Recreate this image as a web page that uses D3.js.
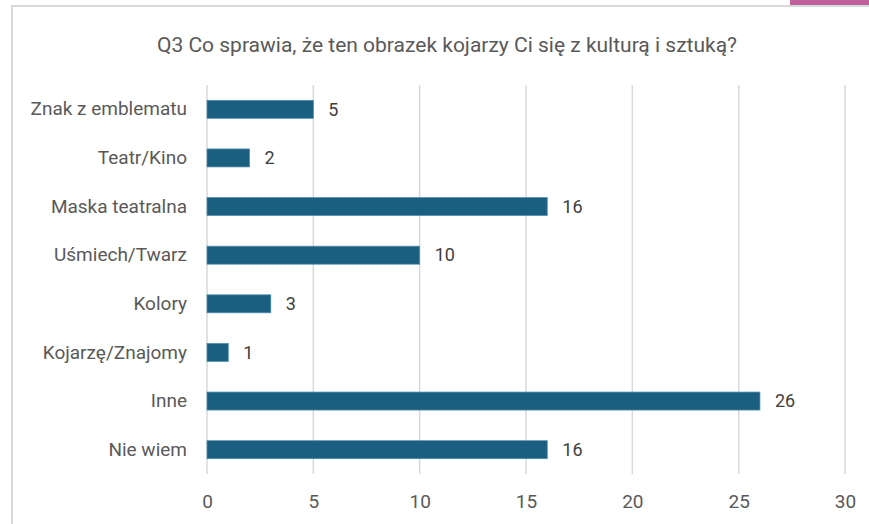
<!DOCTYPE html>
<html>
<head>
<meta charset="utf-8">
<script src="https://cdn.jsdelivr.net/npm/d3@7"></script>
<style>
  body { margin: 0; background: #fff; }
  text { font-family: Roboto, "Open Sans", sans-serif; }
</style>
</head>
<body>
<div id="chart"></div>
<script>
// data
const categories = ["Znak z emblematu", "Teatr/Kino", "Maska teatralna", "Uśmiech/Twarz",
    "Kolory", "Kojarzę/Znajomy", "Inne", "Nie wiem"];
const values = [5, 2, 16, 10, 3, 1, 26, 16];
const ticks = [0, 5, 10, 15, 20, 25, 30];
const title = "Q3 Co sprawia, że ten obrazek kojarzy Ci się z kulturą i sztuką?";

const width = 869, height = 524;

const svg = d3.select("#chart")
    .append("svg")
    .attr("width", width)
    .attr("height", height);

// frame of the chart area + pink tab at the top right
svg.append("rect")
    .attr("x", 12).attr("y", 6)
    .attr("width", width).attr("height", height)
    .attr("fill", "#fff")
    .attr("stroke", "#d9d9d9")
    .attr("stroke-width", 2);

svg.append("rect")
    .attr("x", 790).attr("y", 0)
    .attr("width", 79).attr("height", 5)
    .attr("fill", "#c0619b");

const x = d3.scaleLinear().domain([0, 30]).range([207, 845]);
const y = d3.scaleBand().domain(categories).range([85, 474]).paddingInner(0.63).paddingOuter(0.315);

svg.append("text")
    .attr("x", 447).attr("y", 52)
    .attr("text-anchor", "middle")
    .attr("font-size", 21)
    .attr("fill", "#595959")
    .text(title);

// grid lines
svg.append("g")
    .selectAll("line")
    .data(ticks)
    .enter()
    .append("line")
    .attr("x1", d => x(d)).attr("x2", d => x(d))
    .attr("y1", 85).attr("y2", 474)
    .attr("stroke", "#d9d9d9")
    .attr("stroke-width", 1.5);

// x axis labels
const xAxis = svg.append("g")
    .attr("transform", "translate(0,474)")
    .call(d3.axisBottom(x).tickValues(ticks).tickSize(0).tickPadding(21));
xAxis.select(".domain").remove();
xAxis.selectAll("text")
    .attr("font-size", 19)
    .attr("fill", "#595959")
    .style("font-family", "Roboto, sans-serif");

// y axis labels
const yAxis = svg.append("g")
    .attr("transform", "translate(207,0)")
    .call(d3.axisLeft(y).tickSize(0).tickPadding(20));
yAxis.select(".domain").remove();
yAxis.selectAll("text")
    .attr("font-size", 19)
    .attr("fill", "#595959")
    .style("font-family", "Roboto, sans-serif");

// bars
svg.append("g")
    .selectAll("rect")
    .data(values)
    .enter()
    .append("rect")
    .attr("x", x(0))
    .attr("y", (d, i) => y(categories[i]))
    .attr("width", d => x(d) - x(0))
    .attr("height", y.bandwidth())
    .attr("fill", "#1a5f80")
    .attr("stroke", "#4f8fae")
    .attr("stroke-width", 0.75);

// value labels
svg.append("g")
    .selectAll("text")
    .data(values)
    .enter()
    .append("text")
    .attr("x", d => x(d) + 15)
    .attr("y", (d, i) => y(categories[i]) + y.bandwidth() / 2)
    .attr("dy", "0.35em")
    .attr("font-size", 18)
    .attr("fill", "#404040")
    .text(d => d);
</script>
</body>
</html>
